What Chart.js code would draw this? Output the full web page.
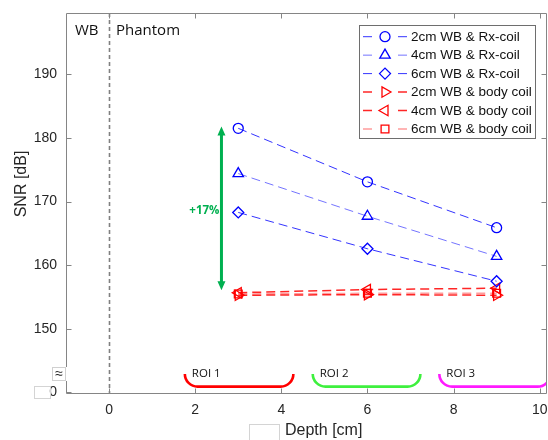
<!DOCTYPE html>
<html>
<head>
<meta charset="utf-8">
<script src="https://cdn.jsdelivr.net/npm/chart.js@4"></script>
<style>
  html, body { margin: 0; padding: 0; background: #fff; overflow: hidden; }
  #wrap { width: 548px; height: 440px; }
  canvas { display: block; }
</style>
</head>
<body>
<div id="wrap"><canvas id="snrChart" width="548" height="440"></canvas></div>
<script>
// data
const depth = [3, 6, 9];
const rx2 = [181.5, 173.1, 165.9];
const rx4 = [174.4, 167.7, 161.4];
const rx6 = [168.3, 162.6, 157.5];
const body2 = [155.3, 155.4, 155.3];
const body4 = [155.7, 156.2, 156.4];
const body6 = [155.5, 155.6, 155.6];

const seriesLabels = [
  '2cm WB & Rx-coil', '4cm WB & Rx-coil', '6cm WB & Rx-coil',
  '2cm WB & body coil', '4cm WB & body coil', '6cm WB & body coil'
];
const xTicks = [0, 2, 4, 6, 8, 10];
const yTicks = [150, 160, 170, 180, 190];
const roiLabels = ['ROI 1', 'ROI 2', 'ROI 3'];
const roiFrom = [1.76, 4.73, 7.67];
const roiTo = [4.28, 7.23, 10.25];

const X_MIN = -1, X_MAX = 10.17;
const Y_MIN = 139.8, Y_MAX = 199.6;

const FONT = "'Liberation Sans', Arial, sans-serif";
const FONT2 = "'Open Sans', sans-serif";
const AXIS = '#858585';
const TXT = '#262626';

function pts(arr) {
  return depth.map((d, i) => ({x: d, y: arr[i]}));
}

function series(label, arr, line, marker, style, rot, r, lw) {
  return {
    label: label,
    data: pts(arr),
    borderColor: line,
    borderWidth: lw,
    borderDash: [9, 5],
    pointStyle: style,
    pointRotation: rot,
    pointRadius: r,
    pointHoverRadius: r,
    pointBorderColor: marker,
    pointBackgroundColor: 'rgba(0,0,0,0)',
    pointBorderWidth: 1.3,
    showLine: true,
    fill: false
  };
}

const datasets = [
  series(seriesLabels[0], rx2, 'rgba(0,0,255,0.8)', '#0000ff', 'circle', 0, 5, 1),
  series(seriesLabels[1], rx4, 'rgba(0,0,255,0.55)', '#0000ff', 'triangle', 0, 6, 1),
  series(seriesLabels[2], rx6, 'rgba(0,0,255,0.8)', '#0000ff', 'rectRot', 0, 5.5, 1),
  series(seriesLabels[3], body2, 'rgba(255,0,0,0.85)', '#ff0000', 'triangle', 90, 6, 1.5),
  series(seriesLabels[4], body4, 'rgba(255,0,0,0.85)', '#ff0000', 'triangle', -90, 6, 1.5),
  series(seriesLabels[5], body6, 'rgba(255,90,90,0.6)', '#ff0000', 'rect', 0, 5.5, 1.5)
];

function marker(ctx, ds, x, y) {
  ctx.save();
  ctx.setLineDash([]);
  ctx.strokeStyle = ds.pointBorderColor;
  ctx.fillStyle = 'rgba(0,0,0,0)';
  ctx.lineWidth = ds.pointBorderWidth;
  Chart.helpers.drawPoint(ctx, {pointStyle: ds.pointStyle, rotation: ds.pointRotation, radius: ds.pointRadius, borderWidth: ds.pointBorderWidth}, x, y);
  ctx.restore();
}

const overlay = {
  id: 'overlay',
  beforeDatasetsDraw(chart) {
    const {ctx, chartArea: a, scales: {x, y}} = chart;
    ctx.save();
    // phantom boundary
    const x0 = Math.round(x.getPixelForValue(0)) + 0.5;
    ctx.strokeStyle = '#808080';
    ctx.lineWidth = 1.6;
    ctx.setLineDash([4, 3]);
    ctx.beginPath();
    ctx.moveTo(x0, a.top);
    ctx.lineTo(x0, a.bottom);
    ctx.stroke();
    ctx.setLineDash([]);

    ctx.fillStyle = '#111';
    ctx.font = '15px ' + FONT2;
    ctx.textBaseline = 'middle';
    ctx.fillText('WB', 75, 31);
    ctx.fillText('Phantom', 116, 31);

    // x tick labels
    ctx.fillStyle = TXT;
    ctx.font = '14px ' + FONT;
    ctx.textAlign = 'center';
    xTicks.forEach(v => ctx.fillText(String(v), x.getPixelForValue(v), a.bottom + 16));
    ctx.textAlign = 'left';

    // ROI brackets
    const roiColors = ['#ff0000', '#3ef03e', '#ff1aff'];
    ctx.beginPath();
    ctx.rect(a.left, a.top, a.right - a.left, a.bottom - a.top);
    ctx.clip();
    roiLabels.forEach((lab, i) => {
      const l = x.getPixelForValue(roiFrom[i]);
      const r = x.getPixelForValue(roiTo[i]);
      const t = y.getPixelForValue(142.95);
      const b = y.getPixelForValue(140.95);
      const rad = b - t;
      ctx.strokeStyle = roiColors[i];
      ctx.lineWidth = 2.6;
      ctx.beginPath();
      ctx.moveTo(l, t);
      ctx.arcTo(l, b, l + rad, b, rad);
      ctx.lineTo(r - rad, b);
      ctx.arcTo(r, b, r, t, rad);
      ctx.lineTo(r, t);
      ctx.stroke();
      ctx.fillStyle = '#111';
      ctx.font = '11.5px ' + FONT2;
      ctx.fillText(lab, l + 7, t);
    });
    ctx.restore();
  },
  afterDatasetsDraw(chart) {
    const {ctx, chartArea: a, scales: {x, y}} = chart;
    ctx.save();

    // green arrow
    const ax = x.getPixelForValue(2.61);
    const aTop = y.getPixelForValue(181.8);
    const aBot = y.getPixelForValue(156.1);
    ctx.strokeStyle = '#00b050';
    ctx.fillStyle = '#00b050';
    ctx.lineWidth = 3;
    ctx.beginPath();
    ctx.moveTo(ax, aTop + 6);
    ctx.lineTo(ax, aBot - 6);
    ctx.stroke();
    ctx.beginPath();
    ctx.moveTo(ax, aTop); ctx.lineTo(ax - 4, aTop + 9); ctx.lineTo(ax + 4, aTop + 9); ctx.closePath();
    ctx.moveTo(ax, aBot); ctx.lineTo(ax - 4, aBot - 9); ctx.lineTo(ax + 4, aBot - 9); ctx.closePath();
    ctx.fill();
    ctx.font = 'bold 11.5px ' + FONT2;
    ctx.textAlign = 'right';
    ctx.textBaseline = 'middle';
    ctx.fillText('+17%', ax - 2, y.getPixelForValue(168.6));

    // box and inward ticks
    ctx.strokeStyle = AXIS;
    ctx.lineWidth = 1;
    const L = Math.round(a.left) + 0.5, R = Math.round(a.right) - 0.5;
    const T = Math.round(a.top) + 0.5, B = Math.round(a.bottom) - 0.5;
    ctx.beginPath();
    ctx.moveTo(L, T); ctx.lineTo(R, T); ctx.lineTo(R, B); ctx.lineTo(L, B); ctx.closePath();
    xTicks.forEach(v => {
      const px = Math.round(x.getPixelForValue(v)) + 0.5;
      ctx.moveTo(px, B); ctx.lineTo(px, B - 5);
      ctx.moveTo(px, T); ctx.lineTo(px, T + 5);
    });
    [Y_MIN + 0.3].concat(yTicks).forEach(v => {
      const py = Math.round(y.getPixelForValue(v)) + 0.5;
      ctx.moveTo(L, py); ctx.lineTo(L + 5, py);
      if (v >= 150) { ctx.moveTo(R, py); ctx.lineTo(R - 5, py); }
    });
    ctx.stroke();

    // axis break box
    ctx.fillStyle = '#fff';
    ctx.fillRect(52, 367, 15, 14);
    ctx.strokeStyle = '#d0d0d0';
    ctx.strokeRect(52.5, 367.5, 13, 13);
    ctx.fillStyle = TXT;
    ctx.font = '14px ' + FONT;
    ctx.textAlign = 'center';
    ctx.fillText('\u2248', 59, 374);

    // empty frames in the figure
    ctx.strokeStyle = '#d4d4d4';
    ctx.strokeRect(34.5, 386.5, 16, 12);
    ctx.strokeRect(249.5, 424.5, 30, 18);

    // axis titles
    ctx.fillStyle = TXT;
    ctx.font = '16px ' + FONT;
    ctx.textAlign = 'left';
    ctx.fillText('Depth [cm]', 285, 431);
    ctx.save();
    ctx.translate(22, 184);
    ctx.rotate(-Math.PI / 2);
    ctx.textAlign = 'center';
    ctx.fillText('SNR [dB]', 0, 0);
    ctx.restore();

    // legend
    ctx.fillStyle = '#fff';
    ctx.fillRect(359.5, 25.5, 176, 113);
    ctx.strokeStyle = '#6e6e6e';
    ctx.lineWidth = 1;
    ctx.strokeRect(359.5, 25.5, 176, 113);
    chart.data.datasets.forEach((ds, i) => {
      const ly = 36.7 + i * 18.45;
      ctx.strokeStyle = ds.borderColor;
      ctx.lineWidth = ds.borderWidth;
      ctx.setLineDash([9, 26]);
      ctx.beginPath();
      ctx.moveTo(363, ly);
      ctx.lineTo(408, ly);
      ctx.stroke();
      ctx.setLineDash([]);
      marker(ctx, ds, 385, ly);
      ctx.fillStyle = '#111';
      ctx.font = '13.5px ' + FONT;
      ctx.textAlign = 'left';
      ctx.textBaseline = 'middle';
      ctx.fillText(ds.label, 411, ly + 0.5);
    });
    ctx.restore();
  }
};

new Chart(document.getElementById('snrChart'), {
  type: 'scatter',
  data: {datasets: datasets},
  options: {
    responsive: false,
    animation: false,
    layout: {autoPadding: false, padding: {top: 13, right: 1, left: 0, bottom: 0}},
    plugins: {legend: {display: false}, tooltip: {enabled: false}},
    scales: {
      x: {
        type: 'linear',
        min: X_MIN,
        max: X_MAX,
        afterBuildTicks: s => { s.ticks = xTicks.map(v => ({value: v})); },
        afterFit: s => { s.height = 46; s.paddingLeft = 0; s.paddingRight = 0; },
        grid: {display: false, drawTicks: false},
        border: {display: false},
        ticks: {display: false}
      },
      y: {
        type: 'linear',
        min: Y_MIN,
        max: Y_MAX,
        afterBuildTicks: s => { s.ticks = [Y_MIN + 0.3].concat(yTicks).map(v => ({value: v})); },
        afterFit: s => { s.width = 66; s.paddingTop = 0; s.paddingBottom = 0; },
        grid: {display: false, drawTicks: false},
        border: {display: false},
        ticks: {
          padding: 9, color: TXT, font: {family: FONT, size: 14},
          callback: v => v < 150 ? '0' : v
        }
      }
    }
  },
  plugins: [overlay]
});
</script>
</body>
</html>
